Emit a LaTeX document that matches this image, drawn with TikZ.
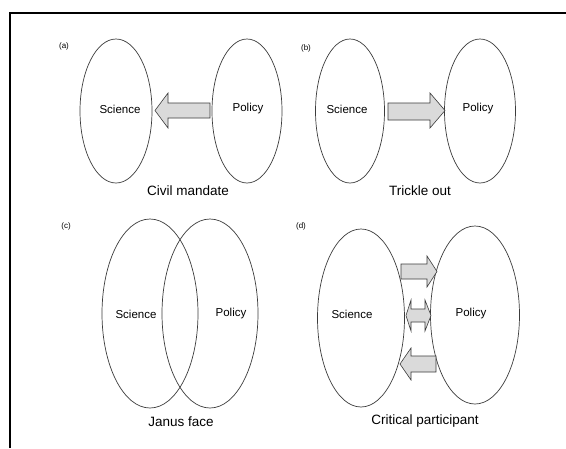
\documentclass[tikz,border=0pt]{standalone}
\usepackage{fontspec}
\setmainfont{Liberation Sans}
\usetikzlibrary{shapes.geometric}
\definecolor{arrowfill}{RGB}{218,218,218}
\definecolor{linegray}{RGB}{60,60,60}
\begin{document}
\begin{tikzpicture}[x=1pt,y=-1pt,
  oval/.style={ellipse,draw=linegray,line width=0.7pt,inner sep=0pt},
  word/.style={font=\fontsize{11.5}{13}\selectfont,inner sep=0pt},
  caption/.style={font=\fontsize{13.5}{15}\selectfont,inner sep=0pt},
  tag/.style={font=\fontsize{8}{9}\selectfont,inner sep=0pt},
  fatarrow/.style={fill=arrowfill,draw=linegray,line width=0.6pt,line join=miter}]
\useasboundingbox (0,0) rectangle (566,448);
\fill[white] (0,0) rectangle (566,448);
% frame
\draw[line width=1.6pt] (10,448) -- (10,13) -- (566,13);
% (a)
\node[tag] (ta) at (64,46) {(a)};
\node[oval,minimum width=72pt,minimum height=144pt] (aS) at (116,111) {};
\node[oval,minimum width=70pt,minimum height=144pt] (aP) at (247,111) {};
\node[word] (aSt) at (120,109) {Science};
\node[word] (aPt) at (248,109) {Policy};
\draw[fatarrow] (155,110.5) -- (168,93) -- (168,103) -- (210,103) -- (210,118) -- (168,118) -- (168,128) -- cycle;
\node[caption] (ca) at (188,191) {Civil mandate};
% (b)
\node[tag] (tb) at (306,48) {(b)};
\node[oval,minimum width=69pt,minimum height=144pt] (bS) at (350,111) {};
\node[oval,minimum width=71pt,minimum height=144pt] (bP) at (480,111) {};
\node[word] (bSt) at (347,109) {Science};
\node[word] (bPt) at (478,109) {Policy};
\draw[fatarrow] (445,110.5) -- (430,93) -- (430,103) -- (388,103) -- (388,120) -- (430,120) -- (430,128) -- cycle;
\node[caption] (cb) at (420,191) {Trickle out};
% (c)
\node[tag] (tc) at (66,226) {(c)};
\node[oval,minimum width=96pt,minimum height=189pt] (cS) at (150,313.5) {};
\node[oval,minimum width=96pt,minimum height=189pt] (cP) at (210,313.5) {};
\node[word] (cSt) at (136,314) {Science};
\node[word] (cPt) at (231,314) {Policy};
\node[caption] (cc) at (181,422) {Janus face};
% (d)
\node[tag] (td) at (301,226) {(d)};
\node[oval,minimum width=87pt,minimum height=178pt] (dS) at (361,318) {};
\node[oval,minimum width=89pt,minimum height=178pt] (dP) at (475,315) {};
\node[word] (dSt) at (352,314) {Science};
\node[word] (dPt) at (471,314) {Policy};
\draw[fatarrow] (437,271.5) -- (427,256) -- (427,264) -- (401,264) -- (401,279) -- (427,279) -- (427,287) -- cycle;
\draw[fatarrow] (406,315.5) -- (411,300) -- (411,309) -- (425,309) -- (425,300) -- (431,315.5) -- (425,331) -- (425,322) -- (411,322) -- (411,331) -- cycle;
\draw[fatarrow] (400,364) -- (411,348) -- (411,356) -- (436,356) -- (436,372) -- (411,372) -- (411,380) -- cycle;
\node[caption] (cd) at (425,421) {Critical participant};
\end{tikzpicture}
\end{document}
